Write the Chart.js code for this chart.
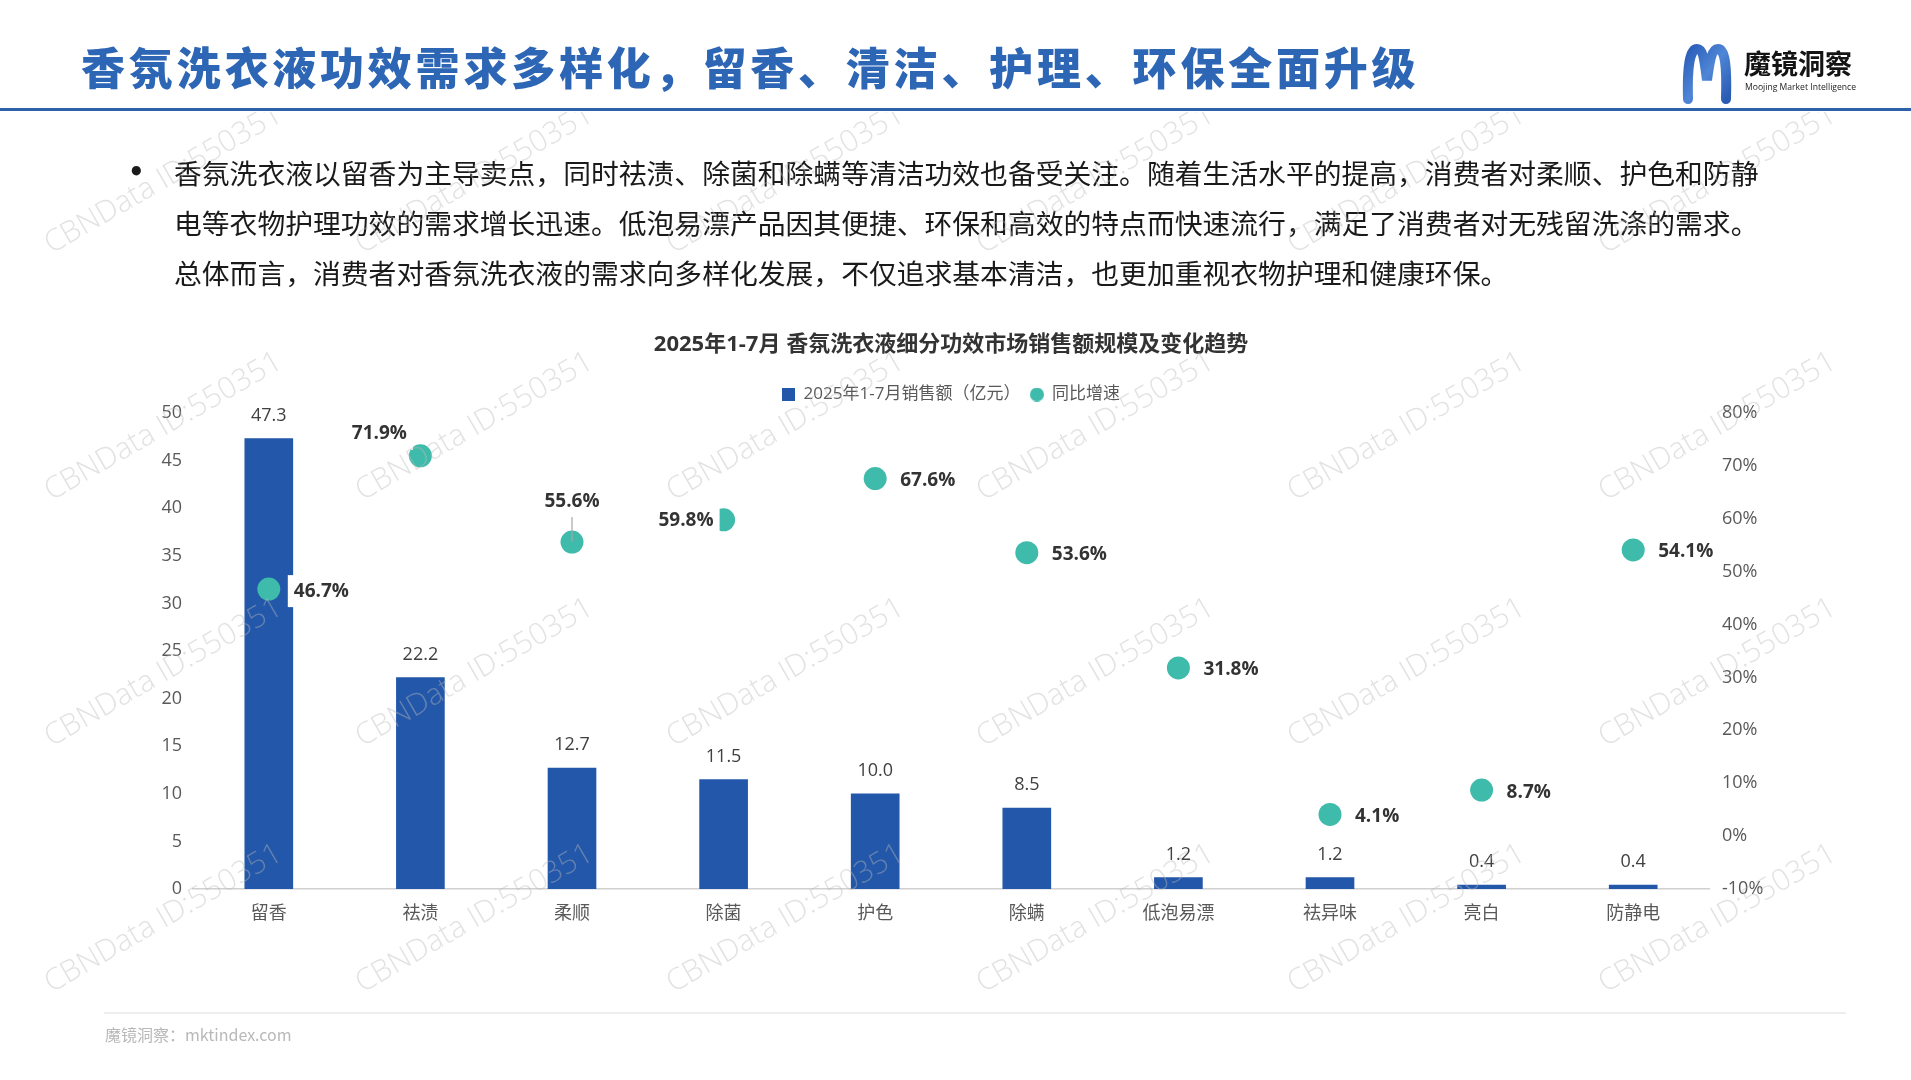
<!DOCTYPE html>
<html>
<head>
<meta charset="utf-8">
<script src="https://cdn.jsdelivr.net/npm/chart.js@4.4.1/dist/chart.umd.min.js"></script>
<style>
html,body{margin:0;padding:0;background:#fff;width:1911px;height:1080px;overflow:hidden;font-family:'Noto Sans CJK SC','Open Sans',sans-serif;}
#wrap{position:relative;width:1911px;height:1080px;overflow:hidden;}
#c{position:absolute;left:0;top:0;}
.h1{position:absolute;left:81px;top:38px;font-size:44px;font-weight:900;color:#2D66B5;letter-spacing:3.8px;line-height:56px;white-space:nowrap;}
.hline{position:absolute;left:0;top:108px;width:1911px;height:3px;background:#2F60AA;}
.body{position:absolute;left:174px;font-size:27.8px;line-height:50px;color:#1a1a1a;white-space:nowrap;}
.bullet{position:absolute;left:128px;top:147px;font-size:26px;font-weight:700;line-height:50px;color:#1a1a1a;font-family:'DejaVu Sans',sans-serif;}
.fline{position:absolute;left:104px;top:1012px;width:1742px;height:2px;background:#eeeeee;}
.foot{position:absolute;left:105px;top:1023px;font-size:16px;line-height:22px;color:#b8b8b8;white-space:nowrap;}
.logo-cn{position:absolute;left:1744px;top:46px;font-size:27px;font-weight:700;line-height:34px;color:#141414;white-space:nowrap;}
.logo-en{position:absolute;left:1745px;top:82px;font-size:8.6px;line-height:11px;color:#222;white-space:nowrap;font-family:'Open Sans',sans-serif;}
#wm{position:absolute;left:0;top:112px;width:1911px;height:968px;overflow:hidden;pointer-events:none;}
.wmt{position:absolute;font-family:'Open Sans',sans-serif;font-weight:300;font-size:30px;color:rgba(185,185,185,0.42);white-space:nowrap;transform:translate(-50%,-50%) rotate(-30deg);}
</style>
</head>
<body>
<div id="wrap">
  <canvas id="c" width="1911" height="1080"></canvas>
  <div class="h1">香氛洗衣液功效需求多样化，留香、清洁、护理、环保全面升级</div>
  <div class="hline"></div>
  <svg style="position:absolute;left:0;top:0" width="1911" height="120">
    <defs>
      <linearGradient id="mg" x1="0" y1="0" x2="1" y2="1">
        <stop offset="0" stop-color="#2B5DB8"/>
        <stop offset="0.5" stop-color="#4F86D6"/>
        <stop offset="1" stop-color="#2A5CB4"/>
      </linearGradient>
    </defs>
    <path d="M1688 99 C1687 66 1690 49 1697 49 C1704 49 1705 66 1707 80 C1709 66 1711 49 1718 49 C1725 49 1727 66 1726 99" fill="none" stroke="url(#mg)" stroke-width="10" stroke-linecap="round"/>
  </svg>
  <div class="logo-cn">魔镜洞察</div>
  <div class="logo-en">Moojing Market Intelligence</div>
  <div class="bullet">•</div>
  <div class="body" style="top:147px">香氛洗衣液以留香为主导卖点，同时祛渍、除菌和除螨等清洁功效也备受关注。随着生活水平的提高，消费者对柔顺、护色和防静</div>
  <div class="body" style="top:197px">电等衣物护理功效的需求增长迅速。低泡易漂产品因其便捷、环保和高效的特点而快速流行，满足了消费者对无残留洗涤的需求。</div>
  <div class="body" style="top:247px">总体而言，消费者对香氛洗衣液的需求向多样化发展，不仅追求基本清洁，也更加重视衣物护理和健康环保。</div>
  <div class="fline"></div>
  <div class="foot">魔镜洞察：mktindex.com</div>
  <div id="wm"></div>
</div>
<script>
// ---- data ----
const categories = ['留香','祛渍','柔顺','除菌','护色','除螨','低泡易漂','祛异味','亮白','防静电'];
const salesValues = [47.3, 22.2, 12.7, 11.5, 10.0, 8.5, 1.2, 1.2, 0.4, 0.4];
const growthValues = [46.7, 71.9, 55.6, 59.8, 67.6, 53.6, 31.8, 4.1, 8.7, 54.1];
const salesAxisTicks = [0, 5, 10, 15, 20, 25, 30, 35, 40, 45, 50];
const growthAxisTicks = [-10, 0, 10, 20, 30, 40, 50, 60, 70, 80];
const seriesNames = ['2025年1-7月销售额（亿元）', '同比增速'];
const chartTitle = '2025年1-7月 香氛洗衣液细分功效市场销售额规模及变化趋势';

// ---- styling ----
const growthLabelPlacement = ['right','aboveLeft','above','left','right','right','right','right','right','right'];
const BAR_COLOR = '#2357A9';
const DOT_COLOR = '#3EBBAA';
const FONT = '"Open Sans","Noto Sans CJK SC",sans-serif';

// watermark (decoration)
(function(){
  const wm = document.getElementById('wm');
  const xs = [162, 473, 784, 1094, 1405, 1716];
  const ys = [177, 424, 670, 916];
  ys.forEach(y => xs.forEach(x => {
    const d = document.createElement('div');
    d.className = 'wmt';
    d.textContent = 'CBNData ID:550351';
    d.style.left = x + 'px';
    d.style.top = (y - 112) + 'px';
    wm.appendChild(d);
  }));
})();

function makeIcon(kind, color){
  const cv = document.createElement('canvas');
  const s = kind === 'rect' ? 13 : 14;
  cv.width = s; cv.height = s;
  const g = cv.getContext('2d');
  g.fillStyle = color;
  if (kind === 'rect') g.fillRect(0, 0, s, s);
  else { g.beginPath(); g.arc(s/2, s/2, s/2, 0, Math.PI*2); g.fill(); }
  return cv;
}
const icons = [makeIcon('rect', BAR_COLOR), makeIcon('circle', DOT_COLOR)];

const labelPlugin = {
  id: 'valueLabels',
  afterDatasetsDraw(chart){
    const ctx = chart.ctx;
    ctx.save();
    const barMeta = chart.getDatasetMeta(0);
    ctx.font = '18px ' + FONT;
    ctx.fillStyle = '#404040';
    ctx.textAlign = 'center';
    ctx.textBaseline = 'middle';
    barMeta.data.forEach((el, i) => {
      ctx.fillText(salesValues[i].toFixed(1), el.x, el.y - 23);
    });
    const dotMeta = chart.getDatasetMeta(1);
    ctx.font = 'bold 19px ' + FONT;
    dotMeta.data.forEach((el, i) => {
      const txt = growthValues[i].toFixed(1) + '%';
      const w = ctx.measureText(txt).width;
      const pos = growthLabelPlacement[i];
      let tx, ty, align, bx;
      if (pos === 'right') { tx = el.x + 25; ty = el.y + 2; align = 'left'; bx = el.x + 19; }
      else if (pos === 'left') { tx = el.x - 10; ty = el.y + 1; align = 'right'; bx = tx - w - 6; }
      else if (pos === 'aboveLeft') { tx = el.x - 41; ty = el.y - 22; align = 'center'; bx = tx - w/2 - 6; }
      else { tx = el.x; ty = el.y - 40; align = 'center'; bx = tx - w/2 - 6; }
      ctx.fillStyle = '#ffffff';
      ctx.fillRect(bx, ty - 16, w + 12, 32);
      if (pos === 'above') {
        ctx.strokeStyle = '#a6a6a6';
        ctx.lineWidth = 1.2;
        ctx.beginPath();
        ctx.moveTo(el.x, el.y - 25);
        ctx.lineTo(el.x, el.y);
        ctx.stroke();
      }
      ctx.fillStyle = '#333333';
      ctx.textAlign = align;
      ctx.fillText(txt, tx, ty);
    });
    ctx.restore();
  }
};

const tickFont = { family: FONT, size: 18 };
new Chart(document.getElementById('c'), {
  type: 'bar',
  data: {
    labels: categories,
    datasets: [
      { label: seriesNames[0], data: salesValues, backgroundColor: BAR_COLOR, barThickness: 48, yAxisID: 'y', order: 1 },
      { label: seriesNames[1], type: 'line', data: growthValues, yAxisID: 'y1', showLine: false,
        pointRadius: 11.5, pointHoverRadius: 11.5, pointBackgroundColor: DOT_COLOR, pointBorderWidth: 0,
        backgroundColor: DOT_COLOR, borderColor: DOT_COLOR, order: 0 }
    ]
  },
  options: {
    responsive: false,
    animation: false,
    events: [],
    layout: { padding: { top: 332, left: 128, right: 137, bottom: 151 } },
    plugins: {
      title: { display: true, text: chartTitle, color: '#333333',
        font: { family: FONT, size: 22, weight: 'bold' }, padding: { top: 0, bottom: 17.6 } },
      legend: {
        display: true, position: 'top',
        labels: {
          usePointStyle: true, boxWidth: 13, boxHeight: 13, padding: 10,
          color: '#595959', font: { family: FONT, size: 17 },
          sort: (a, b) => a.datasetIndex - b.datasetIndex,
          generateLabels(chart){
            const items = Chart.defaults.plugins.legend.labels.generateLabels(chart);
            items.forEach(it => { it.pointStyle = icons[it.datasetIndex]; });
            return items;
          }
        }
      },
      tooltip: { enabled: false }
    },
    scales: {
      x: {
        grid: { display: false, drawTicks: false },
        border: { display: true, color: '#d0d0d0', width: 1.5 },
        ticks: { font: tickFont, color: '#595959', padding: 14 },
        afterFit(s){ s.height = 40; }
      },
      y: {
        position: 'left', min: 0, max: 50,
        grid: { display: false, drawTicks: false },
        border: { display: false },
        ticks: { font: tickFont, color: '#595959', padding: 11 },
        afterBuildTicks(s){ s.ticks = salesAxisTicks.map(v => ({ value: v })); },
        afterFit(s){ s.width = 65; }
      },
      y1: {
        position: 'right', min: -10, max: 80,
        grid: { display: false, drawTicks: false },
        border: { display: false },
        ticks: { font: tickFont, color: '#595959', padding: 13, callback: v => v + '%' },
        afterBuildTicks(s){ s.ticks = growthAxisTicks.map(v => ({ value: v })); },
        afterFit(s){ s.width = 65; }
      }
    }
  },
  plugins: [labelPlugin]
});
</script>
</body>
</html>
